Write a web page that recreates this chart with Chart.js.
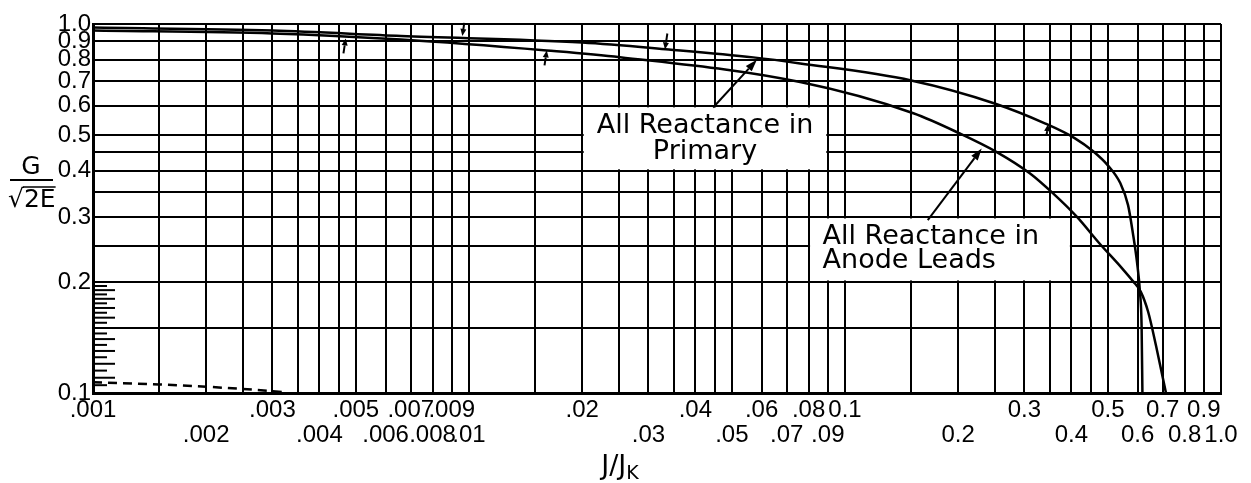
<!DOCTYPE html>
<html><head><meta charset="utf-8">
<script src="https://cdn.jsdelivr.net/npm/chart.js@4/dist/chart.umd.min.js"></script>
<style>html,body{margin:0;padding:0;background:#fff}canvas{display:block}</style>
</head><body>
<div style="width:1251px;height:483px"><canvas id="c" width="1251" height="483"></canvas></div>
<script>
// ---- data (log-log) ----
const primaryX = [0.001, 0.003, 0.0066, 0.02, 0.034, 0.057, 0.076, 0.15, 0.25, 0.34, 0.409, 0.457, 0.50, 0.54, 0.566, 0.583, 0.598, 0.609, 0.615, 0.618];
const primaryY = [0.978, 0.960, 0.928, 0.891, 0.853, 0.812, 0.782, 0.703, 0.609, 0.538, 0.490, 0.452, 0.414, 0.370, 0.323, 0.271, 0.226, 0.187, 0.151, 0.100];

const anodeX = [0.001, 0.003, 0.0066, 0.0161, 0.0252, 0.076, 0.152, 0.202, 0.254, 0.31, 0.357, 0.414, 0.474, 0.545, 0.583, 0.612, 0.640, 0.672, 0.714];
const anodeY = [0.960, 0.943, 0.908, 0.848, 0.813, 0.696, 0.573, 0.505, 0.449, 0.394, 0.348, 0.300, 0.255, 0.218, 0.201, 0.188, 0.166, 0.134, 0.100];

const dashX = [0.001, 0.0015, 0.002, 0.0025, 0.003, 0.0032];
const dashY = [0.107, 0.1055, 0.104, 0.1026, 0.1012, 0.1005];

const xGridValues = [0.001,0.0015,0.002,0.0025,0.003,0.0035,0.004,0.0045,0.005,0.006,0.007,0.008,0.009,
  0.01,0.015,0.02,0.025,0.03,0.035,0.04,0.045,0.05,0.06,0.07,0.08,0.09,
  0.1,0.15,0.2,0.25,0.3,0.35,0.4,0.45,0.5,0.6,0.7,0.8,0.9,1.0];
const xTopRowValues = [0.001,0.003,0.005,0.007,0.009,0.02,0.04,0.06,0.08,0.1,0.3,0.5,0.7,0.9];
const xTopRowLabels = ['.001','.003','.005','.007','.009','.02','.04','.06','.08','0.1','0.3','0.5','0.7','0.9'];
const xBottomRowValues = [0.002,0.004,0.006,0.008,0.01,0.03,0.05,0.07,0.09,0.2,0.4,0.6,0.8,1.0];
const xBottomRowLabels = ['.002','.004','.006','.008','.01','.03','.05','.07','.09','0.2','0.4','0.6','0.8','1.0'];

const yGridValues = [0.1,0.15,0.2,0.25,0.3,0.35,0.4,0.45,0.5,0.6,0.7,0.8,0.9,1.0];
const yLabelValues = [0.1,0.2,0.3,0.4,0.5,0.6,0.7,0.8,0.9,1.0];
const yLabelTexts = ['0.1','0.2','0.3','0.4','0.5','0.6','0.7','0.8','0.9','1.0'];

const FONT = "'DejaVu Sans', sans-serif";
const TICK_FONT = "'Liberation Sans', Arial, sans-serif";

function findLabel(v, values, labels) {
  for (let i = 0; i < values.length; i++) {
    if (Math.abs(values[i] - v) < values[i] * 1e-6) return labels[i];
  }
  return null;
}
function pts(xs, ys) { return xs.map((x, i) => ({x: x, y: ys[i]})); }

function drawArrow(ctx, x1, y1, x2, y2, headLen, headW, lw) {
  ctx.save();
  ctx.strokeStyle = '#000'; ctx.fillStyle = '#000'; ctx.lineWidth = lw;
  const a = Math.atan2(y2 - y1, x2 - x1);
  const bx = x2 - Math.cos(a) * headLen, by = y2 - Math.sin(a) * headLen;
  ctx.beginPath(); ctx.moveTo(x1, y1); ctx.lineTo(bx, by); ctx.stroke();
  ctx.beginPath();
  ctx.moveTo(x2, y2);
  ctx.lineTo(bx + Math.sin(a) * headW / 2, by - Math.cos(a) * headW / 2);
  ctx.lineTo(bx - Math.sin(a) * headW / 2, by + Math.cos(a) * headW / 2);
  ctx.closePath(); ctx.fill();
  ctx.restore();
}

const annotPlugin = {
  id: 'annot',
  beforeDatasetsDraw(chart) {
    const ctx = chart.ctx, X = chart.scales.x, Y = chart.scales.y;
    const boxes = [
      {x0: 0.02, x1: 0.09, y0: 0.6, y1: 0.4, lines: ['All Reactance in', 'Primary'], align: 'center'},
      {x0: 0.08, x1: 0.4, y0: 0.3, y1: 0.2, lines: ['All Reactance in', 'Anode Leads'], align: 'left'}
    ];
    ctx.save();
    boxes.forEach(b => {
      const l = X.getPixelForValue(b.x0), r = X.getPixelForValue(b.x1);
      const t = Y.getPixelForValue(b.y0), bt = Y.getPixelForValue(b.y1);
      ctx.fillStyle = '#fff';
      ctx.fillRect(l + 1.5, t + 1.5, r - l - 3, bt - t - 3);
      ctx.fillStyle = '#000';
      ctx.font = '27px ' + FONT;
      ctx.textBaseline = 'middle';
      if (b.align === 'center') {
        ctx.textAlign = 'center';
        ctx.fillText(b.lines[0], (l + r) / 2, t + 20);
        ctx.fillText(b.lines[1], (l + r) / 2, t + 46);
      } else {
        ctx.textAlign = 'left';
        ctx.fillText(b.lines[0], l + 14, t + 20);
        ctx.fillText(b.lines[1], l + 14, t + 44);
      }
    });
    ctx.restore();
  },
  afterDatasetsDraw(chart) {
    const ctx = chart.ctx, X = chart.scales.x, Y = chart.scales.y;
    // label arrows
    drawArrow(ctx, X.getPixelForValue(0.0446), Y.getPixelForValue(0.594),
              X.getPixelForValue(0.0583), Y.getPixelForValue(0.80), 12, 8, 2);
    drawArrow(ctx, X.getPixelForValue(0.166), Y.getPixelForValue(0.294),
              X.getPixelForValue(0.231), Y.getPixelForValue(0.46), 12, 8, 2);
    // small point arrows
    const small = [
      {x: 0.0047, y: 0.914, dy: 15}, {x: 0.0096, y: 0.928, dy: -13},
      {x: 0.0161, y: 0.848, dy: 15}, {x: 0.0332, y: 0.853, dy: -16},
      {x: 0.347, y: 0.535, dy: 11}
    ];
    small.forEach(s => {
      const tx = X.getPixelForValue(s.x), ty = Y.getPixelForValue(s.y);
      drawArrow(ctx, tx - s.dy * 0.15, ty + s.dy, tx, ty, 7, 6, 2);
    });
  },
  afterDraw(chart) {
    const ctx = chart.ctx, Y = chart.scales.y, ca = chart.chartArea;
    ctx.save();
    ctx.strokeStyle = '#000'; ctx.fillStyle = '#000';
    // hatch scale along left axis between 0.1 and 0.2
    ctx.lineWidth = 2;
    for (let k = 21; k <= 39; k++) {
      const yy = Y.getPixelForValue(k / 200);
      const len = (k % 2 === 0) ? 22 : 14;
      ctx.beginPath(); ctx.moveTo(ca.left, yy); ctx.lineTo(ca.left + len, yy); ctx.stroke();
    }
    // y axis title: G / sqrt(2E)
    ctx.font = '25px ' + FONT;
    ctx.textAlign = 'center'; ctx.textBaseline = 'alphabetic';
    ctx.fillText('G', 31, 174);
    ctx.lineWidth = 2;
    ctx.beginPath(); ctx.moveTo(10, 180); ctx.lineTo(53, 180); ctx.stroke();
    ctx.textAlign = 'left';
    ctx.fillText('\u221A2E', 8, 207);
    const sw = ctx.measureText('\u221A').width;
    const tw = ctx.measureText('\u221A2E').width;
    ctx.lineWidth = 1.5;
    ctx.beginPath(); ctx.moveTo(8 + sw - 1, 187); ctx.lineTo(8 + tw, 187); ctx.stroke();
    // x axis title: J/J_K
    ctx.font = '27px ' + FONT;
    const w1 = ctx.measureText('J/J').width;
    ctx.font = '19px ' + FONT;
    const w2 = ctx.measureText('K').width;
    const cx = 620, x0 = cx - (w1 + w2) / 2;
    ctx.font = '27px ' + FONT;
    ctx.fillText('J/J', x0, 474);
    ctx.font = '19px ' + FONT;
    ctx.fillText('K', x0 + w1, 479);
    ctx.restore();
  }
};

new Chart(document.getElementById('c'), {
  type: 'scatter',
  data: {
    datasets: [
      {label: 'All Reactance in Primary', data: pts(primaryX, primaryY), showLine: true,
       borderColor: '#000', borderWidth: 2.5, pointRadius: 0, cubicInterpolationMode: 'monotone', fill: false},
      {label: 'All Reactance in Anode Leads', data: pts(anodeX, anodeY), showLine: true,
       borderColor: '#000', borderWidth: 2.5, pointRadius: 0, cubicInterpolationMode: 'monotone', fill: false},
      {label: 'dashed', data: pts(dashX, dashY), showLine: true, borderDash: [9, 6],
       borderColor: '#000', borderWidth: 2.5, pointRadius: 0, fill: false}
    ]
  },
  options: {
    responsive: false, animation: false, devicePixelRatio: 1,
    layout: {padding: {left: 0, top: 24, right: 30, bottom: 0}},
    plugins: {legend: {display: false}, tooltip: {enabled: false}, title: {display: false}},
    scales: {
      x: {
        type: 'logarithmic', position: 'bottom', min: 0.001, max: 1.0,
        afterBuildTicks: s => { s.ticks = xGridValues.map(v => ({value: v})); },
        afterFit: s => { s.height = 90; },
        ticks: {
          autoSkip: false, maxRotation: 0, minRotation: 0, padding: 5, color: '#000',
          font: {family: TICK_FONT, size: 24, lineHeight: 1.05},
          callback: v => {
            const t = findLabel(v, xTopRowValues, xTopRowLabels);
            if (t) return [t, ''];
            const b = findLabel(v, xBottomRowValues, xBottomRowLabels);
            if (b) return ['', b];
            return '';
          }
        },
        grid: {color: '#000', lineWidth: 2, drawTicks: false},
        border: {color: '#000', width: 3}
      },
      y: {
        type: 'logarithmic', position: 'left', min: 0.1, max: 1.0,
        afterBuildTicks: s => { s.ticks = yGridValues.map(v => ({value: v})); },
        afterFit: s => { s.width = 93; },
        ticks: {
          autoSkip: false, padding: 2, color: '#000',
          font: {family: TICK_FONT, size: 24},
          callback: v => findLabel(v, yLabelValues, yLabelTexts) || ''
        },
        grid: {color: '#000', lineWidth: 2, drawTicks: false},
        border: {color: '#000', width: 3}
      }
    }
  },
  plugins: [annotPlugin]
});
</script>
</body></html>
